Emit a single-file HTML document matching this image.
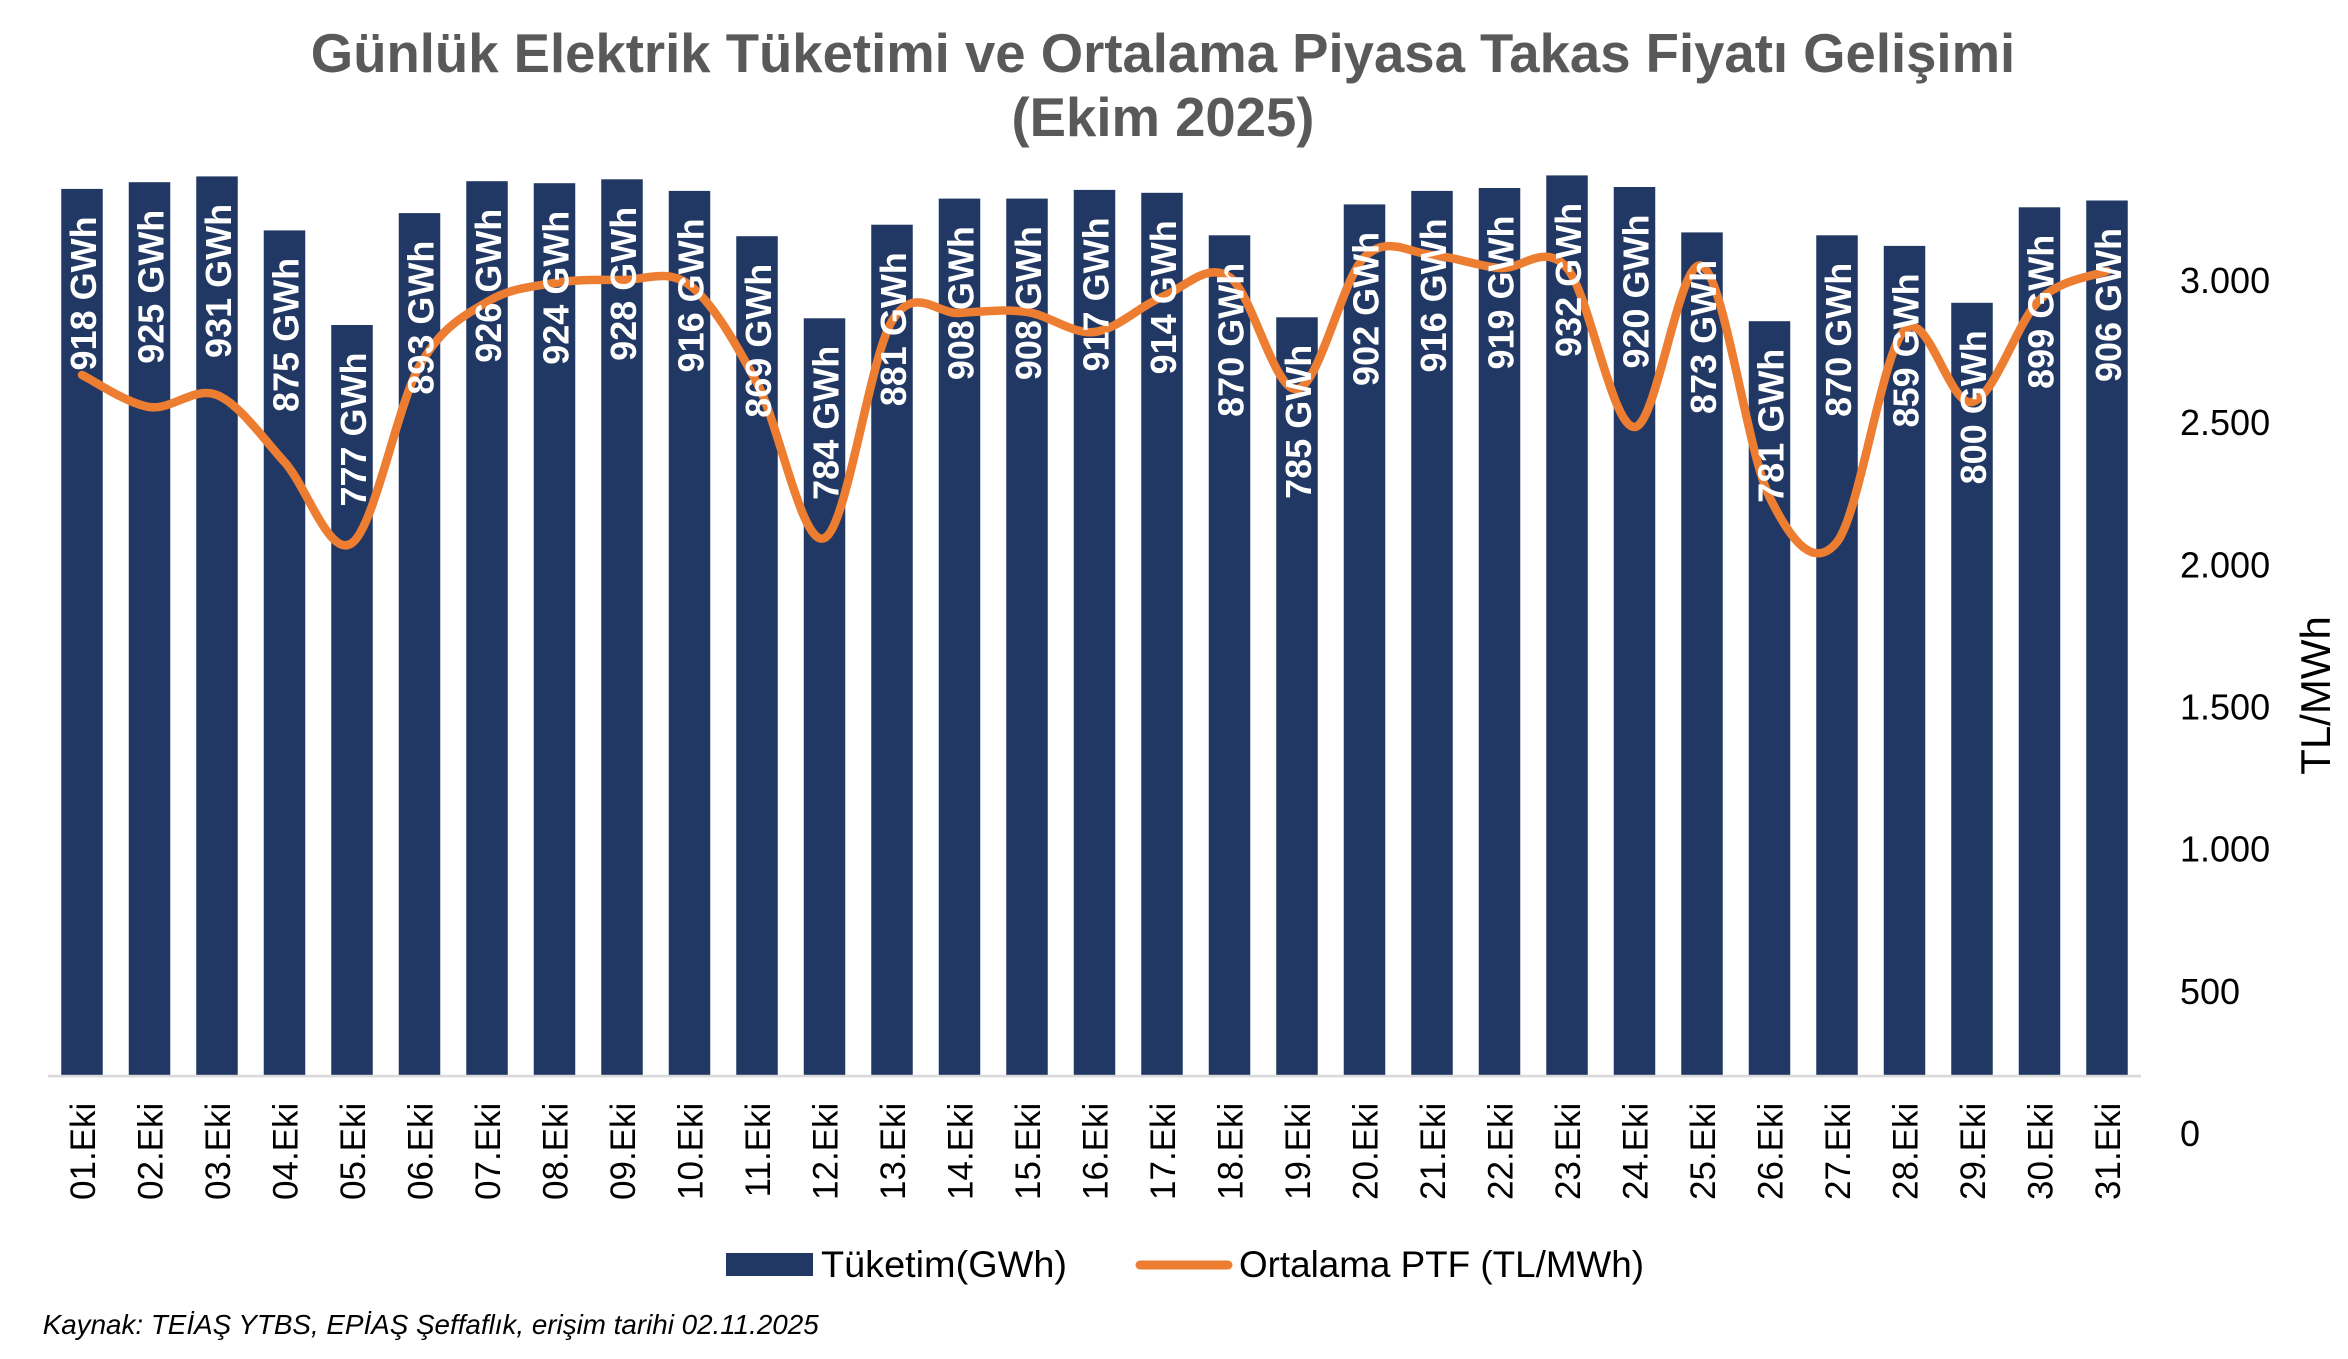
<!DOCTYPE html>
<html>
<head>
<meta charset="utf-8">
<style>
  html, body { margin: 0; padding: 0; background: #ffffff; }
  svg { display: block; }
  .t { font-family: "Liberation Sans", "DejaVu Sans", sans-serif; }
</style>
</head>
<body>
<svg width="2348" height="1359" viewBox="0 0 2348 1359" xmlns="http://www.w3.org/2000/svg">
  <rect x="0" y="0" width="2348" height="1359" fill="#ffffff"/>

  <!-- Title -->
  <text class="t" x="1163" y="72" text-anchor="middle" font-size="54.5" font-weight="bold" fill="#595959">Günlük Elektrik Tüketimi ve Ortalama Piyasa Takas Fiyatı Gelişimi</text>
  <text class="t" x="1163" y="136" text-anchor="middle" font-size="54.5" font-weight="bold" fill="#595959">(Ekim 2025)</text>

  <!-- Bars -->
  <g fill="#213864">
    <rect x="61.25" y="188.9" width="41.5" height="886.1"/>
    <rect x="128.75" y="182.2" width="41.5" height="892.8"/>
    <rect x="196.25" y="176.4" width="41.5" height="898.6"/>
    <rect x="263.75" y="230.4" width="41.5" height="844.6"/>
    <rect x="331.25" y="325.0" width="41.5" height="750.0"/>
    <rect x="398.75" y="213.1" width="41.5" height="861.9"/>
    <rect x="466.25" y="181.2" width="41.5" height="893.8"/>
    <rect x="533.75" y="183.2" width="41.5" height="891.8"/>
    <rect x="601.25" y="179.3" width="41.5" height="895.7"/>
    <rect x="668.75" y="190.9" width="41.5" height="884.1"/>
    <rect x="736.25" y="236.2" width="41.5" height="838.8"/>
    <rect x="803.75" y="318.3" width="41.5" height="756.7"/>
    <rect x="871.25" y="224.7" width="41.5" height="850.3"/>
    <rect x="938.75" y="198.6" width="41.5" height="876.4"/>
    <rect x="1006.25" y="198.6" width="41.5" height="876.4"/>
    <rect x="1073.75" y="189.9" width="41.5" height="885.1"/>
    <rect x="1141.25" y="192.8" width="41.5" height="882.2"/>
    <rect x="1208.75" y="235.3" width="41.5" height="839.7"/>
    <rect x="1276.25" y="317.3" width="41.5" height="757.7"/>
    <rect x="1343.75" y="204.4" width="41.5" height="870.6"/>
    <rect x="1411.25" y="190.9" width="41.5" height="884.1"/>
    <rect x="1478.75" y="188.0" width="41.5" height="887.0"/>
    <rect x="1546.25" y="175.4" width="41.5" height="899.6"/>
    <rect x="1613.75" y="187.0" width="41.5" height="888.0"/>
    <rect x="1681.25" y="232.4" width="41.5" height="842.6"/>
    <rect x="1748.75" y="321.2" width="41.5" height="753.8"/>
    <rect x="1816.25" y="235.3" width="41.5" height="839.7"/>
    <rect x="1883.75" y="245.9" width="41.5" height="829.1"/>
    <rect x="1951.25" y="302.8" width="41.5" height="772.2"/>
    <rect x="2018.75" y="207.3" width="41.5" height="867.7"/>
    <rect x="2086.25" y="200.5" width="41.5" height="874.5"/>
  </g>

  <!-- X axis line -->
  <rect x="48" y="1074.8" width="2093" height="2.6" fill="#d9d9d9"/>

  <!-- PTF line -->
  <path fill="none" stroke="#ED7D31" stroke-width="8.5" stroke-linecap="round" stroke-linejoin="round"
    d="M82,375
       C93.25,380.33 127,403.67 149.5,407
       C172,410.33 194.5,385.83 217,395
       C239.5,404.17 262,437.33 284.5,462
       C307,486.67 329.5,559 352,543
       C374.5,527 397,406.17 419.5,366
       C442,325.83 464.5,315.83 487,302
       C509.5,288.17 532,286.67 554.5,283
       C577,279.33 599.5,279.67 622,280
       C644.5,280.33 667,267.83 689.5,285
       C712,302.17 734.5,340.83 757,383
       C779.5,425.17 802,548.33 824.5,538
       C847,527.67 869.5,358.5 892,321
       C914.5,283.5 937,314.5 959.5,313
       C982,311.5 1004.5,308.83 1027,312
       C1049.5,315.17 1072,334.5 1094.5,332
       C1117,329.5 1139.5,306.17 1162,297
       C1184.5,287.83 1207,261.67 1229.5,277
       C1252,292.33 1274.5,392.33 1297,389
       C1319.5,385.67 1342,279.33 1364.5,257
       C1387,234.67 1409.5,253.17 1432,255
       C1454.5,256.83 1477,265.83 1499.5,268
       C1522,270.17 1544.5,241.5 1567,268
       C1589.5,294.5 1612,427.33 1634.5,427
       C1657,426.67 1679.5,254.33 1702,266
       C1724.5,277.67 1747,451 1769.5,497
       C1792,543 1814.5,569.83 1837,542
       C1859.5,514.17 1882,353.33 1904.5,330
       C1927,306.67 1949.5,407 1972,402
       C1994.5,397 2017,321.83 2039.5,300
       C2062,278.17 2095.75,275.83 2107,271"/>

  <!-- Data labels -->
  <g class="t" font-size="36" font-weight="bold" fill="#ffffff" text-anchor="end">
    <text transform="translate(96,216.4) rotate(-90)">918 GWh</text>
    <text transform="translate(163.5,209.7) rotate(-90)">925 GWh</text>
    <text transform="translate(231,203.9) rotate(-90)">931 GWh</text>
    <text transform="translate(298.5,257.9) rotate(-90)">875 GWh</text>
    <text transform="translate(366,352.5) rotate(-90)">777 GWh</text>
    <text transform="translate(433.5,240.6) rotate(-90)">893 GWh</text>
    <text transform="translate(501,208.7) rotate(-90)">926 GWh</text>
    <text transform="translate(568.5,210.7) rotate(-90)">924 GWh</text>
    <text transform="translate(636,206.8) rotate(-90)">928 GWh</text>
    <text transform="translate(703.5,218.4) rotate(-90)">916 GWh</text>
    <text transform="translate(771,263.7) rotate(-90)">869 GWh</text>
    <text transform="translate(838.5,345.8) rotate(-90)">784 GWh</text>
    <text transform="translate(906,252.2) rotate(-90)">881 GWh</text>
    <text transform="translate(973.5,226.1) rotate(-90)">908 GWh</text>
    <text transform="translate(1041,226.1) rotate(-90)">908 GWh</text>
    <text transform="translate(1108.5,217.4) rotate(-90)">917 GWh</text>
    <text transform="translate(1176,220.3) rotate(-90)">914 GWh</text>
    <text transform="translate(1243.5,262.8) rotate(-90)">870 GWh</text>
    <text transform="translate(1311,344.8) rotate(-90)">785 GWh</text>
    <text transform="translate(1378.5,231.9) rotate(-90)">902 GWh</text>
    <text transform="translate(1446,218.4) rotate(-90)">916 GWh</text>
    <text transform="translate(1513.5,215.5) rotate(-90)">919 GWh</text>
    <text transform="translate(1581,202.9) rotate(-90)">932 GWh</text>
    <text transform="translate(1648.5,214.5) rotate(-90)">920 GWh</text>
    <text transform="translate(1716,259.9) rotate(-90)">873 GWh</text>
    <text transform="translate(1783.5,348.7) rotate(-90)">781 GWh</text>
    <text transform="translate(1851,262.8) rotate(-90)">870 GWh</text>
    <text transform="translate(1918.5,273.4) rotate(-90)">859 GWh</text>
    <text transform="translate(1986,330.3) rotate(-90)">800 GWh</text>
    <text transform="translate(2053.5,234.8) rotate(-90)">899 GWh</text>
    <text transform="translate(2121,228.0) rotate(-90)">906 GWh</text>
  </g>

  <!-- X axis labels -->
  <g class="t" font-size="35" fill="#000000" text-anchor="end">
    <text transform="translate(95,1102.7) rotate(-90)">01.Eki</text>
    <text transform="translate(162.5,1102.7) rotate(-90)">02.Eki</text>
    <text transform="translate(230,1102.7) rotate(-90)">03.Eki</text>
    <text transform="translate(297.5,1102.7) rotate(-90)">04.Eki</text>
    <text transform="translate(365,1102.7) rotate(-90)">05.Eki</text>
    <text transform="translate(432.5,1102.7) rotate(-90)">06.Eki</text>
    <text transform="translate(500,1102.7) rotate(-90)">07.Eki</text>
    <text transform="translate(567.5,1102.7) rotate(-90)">08.Eki</text>
    <text transform="translate(635,1102.7) rotate(-90)">09.Eki</text>
    <text transform="translate(702.5,1102.7) rotate(-90)">10.Eki</text>
    <text transform="translate(770,1102.7) rotate(-90)">11.Eki</text>
    <text transform="translate(837.5,1102.7) rotate(-90)">12.Eki</text>
    <text transform="translate(905,1102.7) rotate(-90)">13.Eki</text>
    <text transform="translate(972.5,1102.7) rotate(-90)">14.Eki</text>
    <text transform="translate(1040,1102.7) rotate(-90)">15.Eki</text>
    <text transform="translate(1107.5,1102.7) rotate(-90)">16.Eki</text>
    <text transform="translate(1175,1102.7) rotate(-90)">17.Eki</text>
    <text transform="translate(1242.5,1102.7) rotate(-90)">18.Eki</text>
    <text transform="translate(1310,1102.7) rotate(-90)">19.Eki</text>
    <text transform="translate(1377.5,1102.7) rotate(-90)">20.Eki</text>
    <text transform="translate(1445,1102.7) rotate(-90)">21.Eki</text>
    <text transform="translate(1512.5,1102.7) rotate(-90)">22.Eki</text>
    <text transform="translate(1580,1102.7) rotate(-90)">23.Eki</text>
    <text transform="translate(1647.5,1102.7) rotate(-90)">24.Eki</text>
    <text transform="translate(1715,1102.7) rotate(-90)">25.Eki</text>
    <text transform="translate(1782.5,1102.7) rotate(-90)">26.Eki</text>
    <text transform="translate(1850,1102.7) rotate(-90)">27.Eki</text>
    <text transform="translate(1917.5,1102.7) rotate(-90)">28.Eki</text>
    <text transform="translate(1985,1102.7) rotate(-90)">29.Eki</text>
    <text transform="translate(2052.5,1102.7) rotate(-90)">30.Eki</text>
    <text transform="translate(2120,1102.7) rotate(-90)">31.Eki</text>
  </g>

  <!-- Right axis tick labels -->
  <g class="t" font-size="36" fill="#000000" text-anchor="start">
    <text x="2180" y="293">3.000</text>
    <text x="2180" y="435.2">2.500</text>
    <text x="2180" y="577.3">2.000</text>
    <text x="2180" y="719.5">1.500</text>
    <text x="2180" y="861.7">1.000</text>
    <text x="2180" y="1003.8">500</text>
    <text x="2180" y="1146">0</text>
  </g>

  <!-- Right axis title -->
  <text class="t" transform="translate(2330,695.5) rotate(-90)" text-anchor="middle" font-size="42" fill="#000000">TL/MWh</text>

  <!-- Legend -->
  <rect x="726" y="1253" width="87" height="23" fill="#213864"/>
  <text class="t" x="821" y="1277" font-size="37" fill="#000000" textLength="246" lengthAdjust="spacingAndGlyphs">Tüketim(GWh)</text>
  <line x1="1140" y1="1265" x2="1228" y2="1265" stroke="#ED7D31" stroke-width="9" stroke-linecap="round"/>
  <text class="t" x="1239" y="1277" font-size="37" fill="#000000" textLength="405" lengthAdjust="spacingAndGlyphs">Ortalama PTF (TL/MWh)</text>

  <!-- Source -->
  <text class="t" x="42.7" y="1334" font-size="28" font-style="italic" fill="#000000" textLength="776" lengthAdjust="spacingAndGlyphs">Kaynak: TEİAŞ YTBS, EPİAŞ Şeffaflık, erişim tarihi 02.11.2025</text>
</svg>
</body>
</html>
